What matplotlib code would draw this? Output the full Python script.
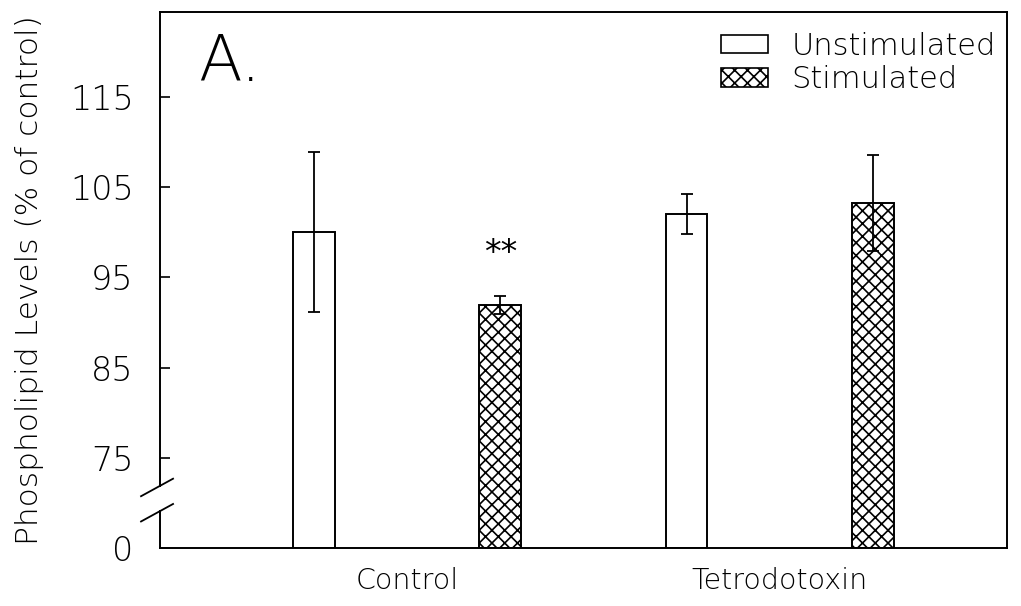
import matplotlib
matplotlib.use("Agg")
import matplotlib.pyplot as plt
import matplotlib.transforms as mtransforms
from matplotlib.patches import Patch
import numpy as np

DPI = 115
S = 100.0 / DPI  # keeps sizes in pixel terms as if drawn at 100 dpi

plt.rcParams['font.family'] = ['DejaVu Sans']
plt.rcParams['font.weight'] = 'light'
plt.rcParams['axes.labelweight'] = 'light'
plt.rcParams['hatch.linewidth'] = 1.2 * S

# Data
groups = ["Control", "Tetrodotoxin"]
unstim_mean = [100.0, 102.0]
unstim_err = [8.9, 2.2]
stim_mean = [91.9, 103.2]
stim_err = [1.0, 5.3]
series_labels = ["Unstimulated", "Stimulated"]
ytick_values = [65, 75, 85, 95, 105, 115]
ytick_labels = ["0", "75", "85", "95", "105", "115"]
axis_floor = 65           # the broken axis starts here, labelled "0"
break_low, break_high = 69.1, 71.9
signif_label = "**"
signif_y = 97.6
panel_label = "A."

fig = plt.figure(figsize=(1022 / DPI, 606 / DPI), dpi=DPI)
ax = fig.add_axes([0.1566, 0.0957, 0.8287, 0.8845])

x = np.arange(len(groups)) * 2.0
width = 0.225
lw = 1.4 * S

ax.bar(x - 0.5, np.array(unstim_mean) - axis_floor, width, bottom=axis_floor,
       facecolor="white", edgecolor="black", linewidth=lw, zorder=2)
ax.bar(x + 0.5, np.array(stim_mean) - axis_floor, width, bottom=axis_floor,
       facecolor="white", edgecolor="black", linewidth=lw, hatch="xxx", zorder=2)
ax.errorbar(x - 0.5, unstim_mean, yerr=unstim_err, fmt="none", ecolor="black",
            elinewidth=1.3 * S, capsize=4 * S, capthick=1.3 * S, zorder=3)
ax.errorbar(x + 0.5, stim_mean, yerr=stim_err, fmt="none", ecolor="black",
            elinewidth=1.3 * S, capsize=4 * S, capthick=1.3 * S, zorder=3)

ax.text(x[0] + 0.5, signif_y, signif_label, ha="center", va="center",
        fontsize=24 * S, fontweight="normal", color="black")

ax.set_xlim(-1.326, 3.22)
ax.set_ylim(axis_floor, 124.4)
ax.set_yticks(ytick_values)
ax.set_yticklabels(ytick_labels, fontsize=24 * S)
ax.tick_params(axis="y", direction="in", length=7 * S, width=1.2 * S,
               pad=19 * S)
ax.set_xticks(x)
ax.set_xticklabels(groups, fontsize=20.5 * S)
ax.tick_params(axis="x", length=0, pad=14 * S)
ax.set_ylabel("Phospholipid Levels (% of control)", fontsize=22.5 * S,
              labelpad=19 * S)

for side in ["top", "right", "bottom"]:
    ax.spines[side].set_linewidth(1.4 * S)

# Broken left spine drawn by hand
ax.spines["left"].set_visible(False)
trans = mtransforms.blended_transform_factory(ax.transAxes, ax.transData)
ax.plot([0, 0], [axis_floor, break_low], color="black", lw=1.4 * S,
        transform=trans, clip_on=False)
ax.plot([0, 0], [break_high, 124.4], color="black", lw=1.4 * S,
        transform=trans, clip_on=False)
px = 1.0 / 847.0
for y0 in (break_high, break_low):
    ax.plot([-19 * px, 13 * px], [y0 - 1.16, y0 + 0.78], color="black",
            lw=1.3 * S, transform=trans, clip_on=False)

ax.text(0.045, 0.962, panel_label, transform=ax.transAxes, fontsize=46 * S,
        ha="left", va="top", color="black")

handles = [Patch(facecolor="white", edgecolor="black", linewidth=1.2 * S),
           Patch(facecolor="white", edgecolor="black", linewidth=1.2 * S,
                 hatch="xxx")]
ax.legend(handles, series_labels, loc="upper right", frameon=False,
          fontsize=22 * S, handlelength=1.55, handleheight=0.55,
          handletextpad=0.75, labelspacing=0.15, borderaxespad=0.25,
          bbox_to_anchor=(1.01, 1.0))

fig.savefig("out.png", dpi=DPI)
